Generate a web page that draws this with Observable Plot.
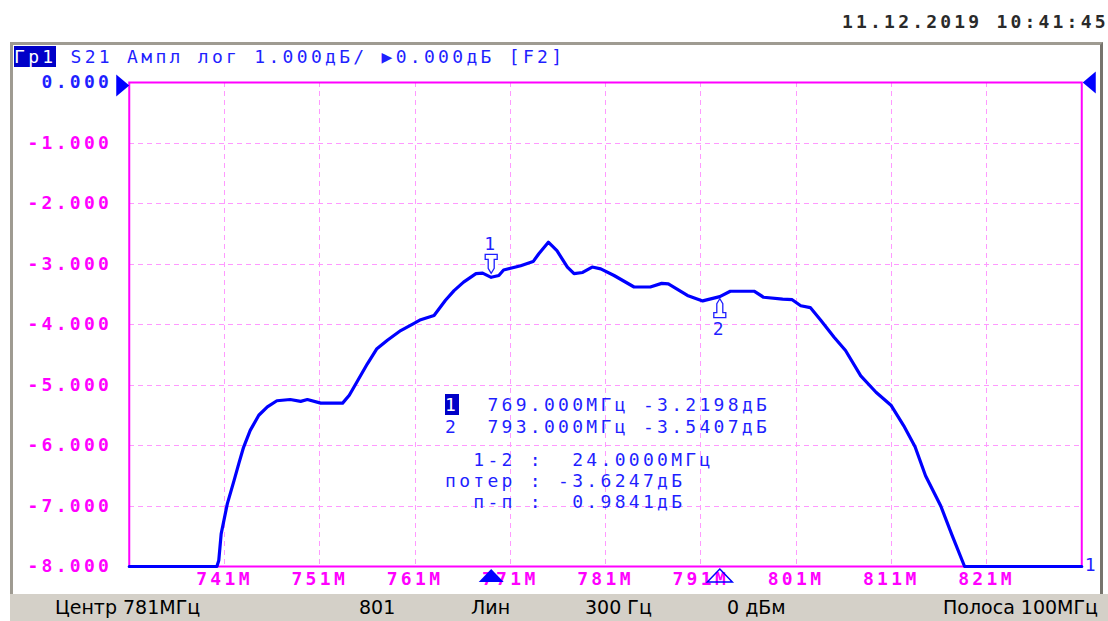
<!DOCTYPE html>
<html><head><meta charset="utf-8">
<script src="https://cdn.jsdelivr.net/npm/d3@7"></script>
<script src="https://cdn.jsdelivr.net/npm/@observablehq/plot@0.6"></script>
<style>
html,body{margin:0;padding:0;background:#fff;}
#page{position:relative;width:1108px;height:621px;overflow:hidden;}
.mono{position:absolute;font-family:"DejaVu Sans Mono",monospace;font-size:18px;letter-spacing:3.3px;white-space:pre;line-height:20px;color:#1f1fff;}
.sans{position:absolute;font-family:"DejaVu Sans",sans-serif;font-size:19px;white-space:pre;line-height:22px;color:#000;}
#bevel{position:absolute;left:10px;top:42px;width:1093px;height:553px;box-sizing:border-box;border-top:3px solid #9f9b92;border-left:3px solid #9f9b92;border-right:3px solid #77746d;}
#header{position:relative;height:70px;}
#chart{position:relative;height:522px;}
#chart svg{display:block;}
#chart svg g[aria-label="y-axis tick label"] text, #chart svg g[aria-label="x-axis tick label"] text{font-weight:600;}
#chart svg g[aria-label="x-grid"], #chart svg g[aria-label="y-grid"], #chart svg g[aria-label="frame"]{shape-rendering:crispEdges;}
#status{position:absolute;left:10px;top:594px;width:1098px;height:27px;background:#d4d0c8;}
.hl{background:#0000c8;color:#fff;}
</style></head>
<body><div id="page">
<div id="bevel"></div>
<div id="header"></div>
<div id="chart"></div>
<div id="status"></div>
</div>
<script>
// ---- data ----
const freqMHz = [731, 740.2, 740.4, 740.65, 741.3, 742.0, 742.5, 743.0, 743.7, 744.6, 745.5, 746.5, 747.9, 749.0, 749.7, 751.1, 753.4, 754.1, 754.9, 756.0, 757.0, 758.1, 759.5, 760.9, 761.6, 763.0, 764.2, 765.1, 766.1, 767.4, 768.1, 769.0, 769.8, 770.3, 772.1, 773.4, 774.0, 775.0, 775.9, 777.0, 777.7, 778.6, 779.6, 780.5, 781.9, 784.0, 785.7, 786.9, 787.6, 789.6, 791.2, 793.0, 794.1, 796.6, 797.6, 799.6, 800.6, 801.5, 802.5, 803.6, 805.0, 806.2, 807.8, 809.4, 811.0, 812.3, 813.5, 814.6, 816.2, 817.4, 818.7, 831];
const levelDb = [-8, -8, -7.9, -7.46, -6.96, -6.58, -6.30, -6.03, -5.75, -5.50, -5.36, -5.26, -5.24, -5.27, -5.24, -5.30, -5.30, -5.17, -4.95, -4.65, -4.40, -4.26, -4.10, -3.98, -3.92, -3.85, -3.60, -3.44, -3.30, -3.16, -3.15, -3.22, -3.19, -3.10, -3.03, -2.96, -2.83, -2.64, -2.78, -3.05, -3.16, -3.14, -3.05, -3.08, -3.19, -3.38, -3.38, -3.32, -3.33, -3.52, -3.61, -3.54, -3.45, -3.45, -3.55, -3.58, -3.59, -3.69, -3.72, -3.93, -4.21, -4.43, -4.85, -5.12, -5.34, -5.67, -6.02, -6.50, -7.00, -7.49, -8, -8];
const markerNo = [1, 2];
const markerFreq = [769.000, 793.000];
const markerLevel = [-3.2198, -3.5407];
const xTicks = [741, 751, 761, 771, 781, 791, 801, 811, 821];
const yTicks = [0, -1, -2, -3, -4, -5, -6, -7, -8];
const refLevel = [0];
const traceNo = [1];
const dateText = "11.12.2019 10:41:45";
const headerChannel = "Гр1";
const headerText = " S21 Ампл лог 1.000дБ/ ▶0.000дБ [F2]";
const tableRows = [
  ["1", "  769.000МГц -3.2198дБ"],
  ["", "2  793.000МГц -3.5407дБ"],
  ["", "  1-2 :  24.0000МГц"],
  ["", "потер : -3.6247дБ"],
  ["", "  п-п :  0.9841дБ"]
];
const tableY = [395, 417, 450, 471, 492];
const statusItems = [
  {text: "Центр 781МГц", left: 55},
  {text: "801", left: 359},
  {text: "Лин", left: 471},
  {text: "300 Гц", left: 585},
  {text: "0 дБм", left: 727},
  {text: "Полоса 100МГц", right: 10}
];

// ---- tables ----
const trace = freqMHz.map((f, i) => ({freq: f, level: levelDb[i]}));
const markers = markerNo.map((n, i) => ({no: n, freq: markerFreq[i], level: markerLevel[i]}));

const BLUE = "#0000ff", TXT = "#1f1fff", MAG = "#ff00ff", GRID = "#ff99ff";

const symDown = {draw(c){c.moveTo(0,0);c.lineTo(-3,-5);c.lineTo(-3,-14);c.lineTo(-6,-14);c.lineTo(-6,-19);c.lineTo(6,-19);c.lineTo(6,-14);c.lineTo(3,-14);c.lineTo(3,-5);c.closePath();}};
const symUp = {draw(c){c.moveTo(0,0);c.lineTo(-3,5);c.lineTo(-3,14);c.lineTo(-6,14);c.lineTo(-6,19);c.lineTo(6,19);c.lineTo(6,14);c.lineTo(3,14);c.lineTo(3,5);c.closePath();}};
const symTri = {draw(c){c.moveTo(0,-6.5);c.lineTo(12.5,6.5);c.lineTo(-12.5,6.5);c.closePath();}};
const symRight = {draw(c){c.moveTo(0,0);c.lineTo(-13,-11);c.lineTo(-13,11);c.closePath();}};
const symLeft = {draw(c){c.moveTo(0,0);c.lineTo(13,-11);c.lineTo(13,11);c.closePath();}};

const m1 = markers.filter(d => d.no === 1);
const m2 = markers.filter(d => d.no === 2);

const chart = Plot.plot({
  width: 1108, height: 522,
  marginLeft: 128.75, marginRight: 26.75, marginTop: 12, marginBottom: 26,
  x: {domain: [731, 831]},
  y: {domain: [-8, 0]},
  style: {background: "transparent", overflow: "visible", fontFamily: "'DejaVu Sans Mono', monospace", fontSize: "18px", letterSpacing: "3.3px"},
  marks: [
    Plot.gridX(xTicks, {stroke: GRID, strokeOpacity: 1, strokeDasharray: "5,4"}),
    Plot.gridY(yTicks.filter(d => d < 0 && d > -8), {stroke: GRID, strokeOpacity: 1, strokeDasharray: "5,4"}),
    Plot.frame({stroke: MAG, strokeWidth: 2}),
    Plot.axisX(xTicks, {tickSize: 0, tickPadding: 6, tickFormat: d => d + "M", fill: MAG, label: null}),
    Plot.axisY(yTicks.filter(d => d < 0), {tickSize: 0, tickPadding: 17, tickFormat: d => d.toFixed(3), fill: MAG, label: null}),
    Plot.axisY(refLevel, {tickSize: 0, tickPadding: 17, tickFormat: d => d.toFixed(3), fill: TXT, label: null}),
    Plot.line(trace, {x: "freq", y: "level", stroke: BLUE, strokeWidth: 3.2}),
    Plot.dot(refLevel, {y: d => d, frameAnchor: "left", symbol: symRight, fill: BLUE, stroke: "none", dy: 3}),
    Plot.dot(refLevel, {y: d => d, frameAnchor: "right", symbol: symLeft, fill: BLUE, stroke: "none", dx: 1}),
    Plot.dot(m1, {x: "freq", y: "level", symbol: symDown, fill: "white", stroke: TXT, strokeWidth: 1.3, dy: -4}),
    Plot.text(m1, {x: "freq", y: "level", text: d => String(d.no), fill: TXT, dy: -33}),
    Plot.dot(m2, {x: "freq", y: "level", symbol: symUp, fill: "white", stroke: TXT, strokeWidth: 1.3, dy: 2}),
    Plot.text(m2, {x: "freq", y: "level", text: d => String(d.no), fill: TXT, dy: 33}),
    Plot.dot(m1, {x: "freq", frameAnchor: "bottom", symbol: symTri, fill: BLUE, stroke: "none", dy: 9}),
    Plot.dot(m2, {x: "freq", frameAnchor: "bottom", symbol: symTri, fill: "none", stroke: BLUE, strokeWidth: 1.5, dy: 9}),
    Plot.text(traceNo, {frameAnchor: "bottom-right", text: d => String(d), fill: TXT, textAnchor: "start", dx: 3, dy: 4})
  ]
});
document.getElementById("chart").appendChild(chart);

// ---- header / annotations ----
const page = document.getElementById("page");
function add(cls, text, style, html) {
  const el = document.createElement("div");
  el.className = cls;
  if (html) el.innerHTML = html; else el.textContent = text;
  Object.assign(el.style, style);
  page.appendChild(el);
  return el;
}
add("mono", dateText, {left: "842px", top: "12px", color: "#2a2a2a", fontWeight: "bold", fontSize: "18px", letterSpacing: "3.2px"});
add("mono", "", {left: "14px", top: "47px"}, `<span class="hl">${headerChannel}</span>${headerText}`);
tableRows.forEach((r, i) => {
  const html = r[0] ? `<span class="hl">${r[0]}</span>${r[1]}` : r[1];
  add("mono", "", {left: "445px", top: tableY[i] + "px"}, html);
});
const status = document.getElementById("status");
statusItems.forEach(s => {
  const el = document.createElement("div");
  el.className = "sans";
  el.textContent = s.text;
  el.style.top = "2px";
  if (s.left !== undefined) el.style.left = (s.left - 10) + "px"; else el.style.right = s.right + "px";
  status.appendChild(el);
});
</script>
</body></html>
